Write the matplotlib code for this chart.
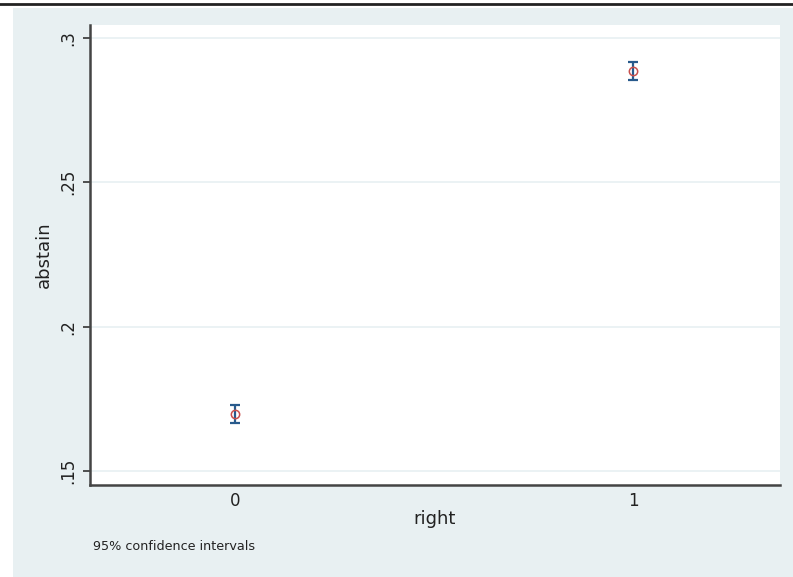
import matplotlib
matplotlib.use('Agg')
import matplotlib.pyplot as plt
from matplotlib.patches import Rectangle
import numpy as np

# margins plot: abstain by right, with 95% CI
right_vals = [0, 1]
abstain_mean = [0.1698, 0.2885]
ci_low = [0.1667, 0.2854]
ci_high = [0.1729, 0.2918]
yticks = [0.15, 0.2, 0.25, 0.3]
ytick_labels = ['.15', '.2', '.25', '.3']
xticks = [0, 1]

plt.rcParams['font.family'] = ['DejaVu Sans']

W, H = 793, 577
fig = plt.figure(figsize=(W / 100, H / 100), dpi=100, facecolor='white')

# stata background panel
bg = Rectangle((13 / W, 0), 1 - 13 / W, (H - 8) / H, transform=fig.transFigure,
               facecolor='#e8f0f2', edgecolor='none', zorder=-10)
fig.patches.append(bg)
# cut-off page rule at top
fig.add_artist(plt.Line2D([0, 1], [1 - 4 / H, 1 - 4 / H], transform=fig.transFigure,
                          color='#222222', lw=2))

left, right, top, bottom = 90, 780, 25, 485
ax = fig.add_axes([left / W, 1 - bottom / H, (right - left) / W, (bottom - top) / H])
ax.set_facecolor('white')

ax.set_ylim(0.1451, 0.3045)
ax.set_xlim(-0.364, 1.369)

for y in yticks:
    ax.axhline(y, color='#e8f0f2', lw=1.2, zorder=0)

err = [np.array(abstain_mean) - np.array(ci_low), np.array(ci_high) - np.array(abstain_mean)]
ax.errorbar(right_vals, abstain_mean, yerr=err, fmt='none', ecolor='#285a8c',
            elinewidth=1.6, capsize=3.6, capthick=1.6, zorder=2)
ax.plot(right_vals, abstain_mean, 'o', mfc='none', mec='#c8504d', ms=6, mew=1.1, zorder=3)

ax.set_yticks(yticks)
ax.set_yticklabels(ytick_labels, rotation=90, va='center', fontsize=12, color='#222222')
ax.set_xticks(xticks)
ax.set_xticklabels(['0', '1'], fontsize=12, color='#222222')
ax.tick_params(axis='y', length=5, width=1.2, color='#333333', pad=4)
ax.tick_params(axis='x', length=0, pad=5)

for s in ['top', 'right']:
    ax.spines[s].set_visible(False)
for s in ['left', 'bottom']:
    ax.spines[s].set_color('#444444')
    ax.spines[s].set_linewidth(1.8)

ax.set_ylabel('abstain', fontsize=13, labelpad=5, color='#222222')
ax.set_xlabel('right', fontsize=13, labelpad=0, color='#222222')

fig.text(93 / W, 1 - 546 / H, '95% confidence intervals', fontsize=9.2, va='center', ha='left',
         color='#222222')

fig.savefig('out.png', dpi=100, facecolor=fig.get_facecolor())
